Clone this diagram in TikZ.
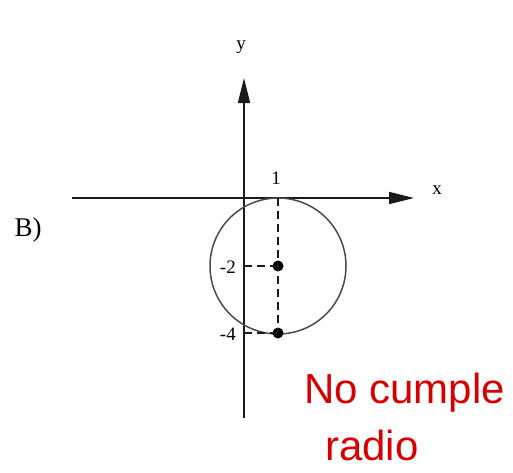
\documentclass[tikz,border=0pt]{standalone}
\usepackage{fontspec}
\setmainfont{Liberation Serif}
\newfontfamily\handfont{Liberation Sans}
\usetikzlibrary{arrows.meta, positioning}
\definecolor{axisgray}{HTML}{1A1A1A}
\definecolor{circgray}{HTML}{4A4A4A}
\definecolor{markred}{HTML}{D60000}

\begin{document}
\begin{tikzpicture}[
    x=1pt, y=-1pt,
    axis/.style={line width=1.4pt, color=axisgray, -{Triangle[length=25pt, width=12pt]}},
    guide/.style={dash pattern=on 8pt off 5pt, line width=1.2pt, color=axisgray},
    lbl/.style={font=\fontsize{19}{19}\selectfont, inner sep=1pt},
    dot/.style={circle, fill=black, minimum size=11pt, inner sep=0pt},
    note/.style={font=\handfont\fontsize{42}{42}\selectfont, color=markred, inner sep=0pt},
]
\useasboundingbox (0,0) rectangle (513,472);
% axes
\coordinate (xl) at (72,198);
\coordinate (xr) at (414,198);
\coordinate (yb) at (244,418);
\coordinate (yt) at (244,78);
\draw[axis] (xl) -- (xr);
\draw[axis] (yb) -- (yt);
\node[lbl] (xlab) at (437,190) {x};
\node[lbl] (ylab) at (241,47) {y};
% circle
\coordinate (c) at (278,266);
\draw[line width=1.5pt, color=circgray] (c) circle (68);
\node[dot] (ctr) at (c) {};
\node[dot] (low) at (278,333) {};
\coordinate (top) at (278,198);
\coordinate (ym2) at (244,266);
\coordinate (ym4) at (244,333);
\draw[guide] (top) -- (low.center);
\draw[guide] (ym2) -- (ctr.center);
\draw[guide] (ym4) -- (low.center);
\node[lbl] (one) at (276,178) {1};
\node[lbl, anchor=east] (m2) at (237,267) {-2};
\node[lbl, anchor=east] (m4) at (237,334) {-4};
\node[font=\fontsize{27}{27}\selectfont] (part) at (28,230) {B)};
% red remark
\node[note, anchor=base west] (rem1) at (304,403) {No cumple};
\node[note, anchor=base west] (rem2) at (325,460) {radio};
\end{tikzpicture}
\end{document}
